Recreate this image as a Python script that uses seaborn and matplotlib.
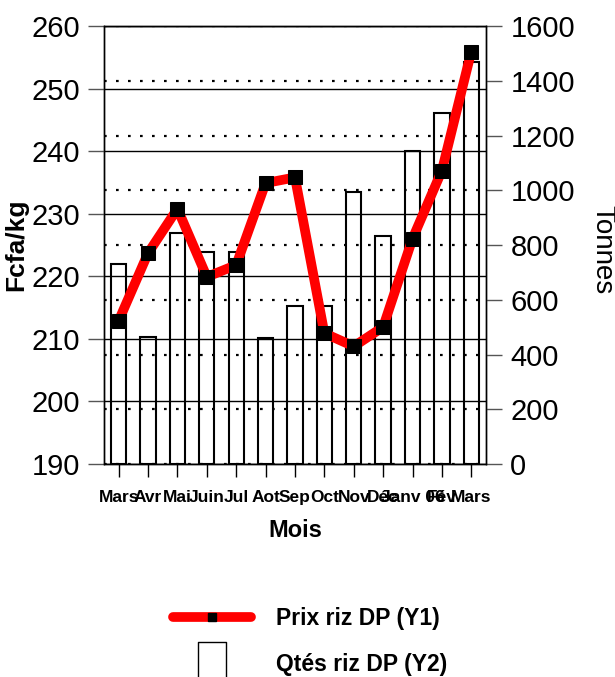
import matplotlib
matplotlib.use("Agg")
import matplotlib.pyplot as plt
from matplotlib.lines import Line2D
import seaborn as sns

# values
months = ["Mars", "Avr", "Mai", "Juin", "Jul", "Aot", "Sep", "Oct", "Nov",
          "Déc", "Janv 06", "Fév", "Mars"]
prix = [212.9, 223.7, 230.8, 219.9, 221.8, 234.9, 235.8, 210.9, 208.8,
        211.9, 226.0, 236.9, 255.9]
qtes = [730, 465, 843, 774, 774, 459, 577, 577, 992, 833, 1144, 1283, 1467]
left_ticks = [190, 200, 210, 220, 230, 240, 250, 260]
right_ticks = [0, 200, 400, 600, 800, 1000, 1200, 1400, 1600]
idx = list(range(len(months)))

sns.set_theme(style="ticks")
plt.rcParams["font.family"] = ["Liberation Sans", "DejaVu Sans"]
for key in ("text.color", "axes.labelcolor", "xtick.labelcolor", "ytick.labelcolor"):
    plt.rcParams[key] = "black"

fig = plt.figure(figsize=(6.15, 6.77), dpi=100)
ax = fig.add_axes([0.1691, 0.3146, 0.6211, 0.647])
ax2 = ax.twinx()

# bars on the right axis (Tonnes)
sns.barplot(x=idx, y=qtes, ax=ax2, color="white", edgecolor="black",
            linewidth=1.5, width=0.52, saturation=1)
ax2.set_ylim(0, 1600)
ax2.set_yticks(right_ticks)
ax2.set_axisbelow(False)
ax2.grid(axis="y", color="black", lw=1.6, linestyle=(0, (1.2, 4.2)))
ax2.grid(axis="x", visible=False)

# price line on the left axis (Fcfa/kg), drawn above the bars
ax.set_zorder(ax2.get_zorder() + 1)
ax.patch.set_visible(False)
sns.lineplot(x=idx, y=prix, ax=ax, color="#ff0000", lw=7, marker="s",
             markersize=9.5, markerfacecolor="black", markeredgecolor="black")
ax.set_ylim(190, 260)
ax.set_yticks(left_ticks)
ax.set_xlim(-0.5, 12.5)
ax.set_xticks(idx)
ax.set_xticklabels(months, weight="bold", fontsize=12.5)
ax.set_xticks(idx[1:12:2], minor=True)
ax.grid(axis="y", which="major", color="black", lw=1)
ax.grid(axis="x", which="major", visible=False)
ax.grid(axis="x", which="minor", color="black", lw=1)

ax.tick_params(axis="y", length=11.5, width=1, pad=6, labelsize=21, color="#555555")
ax.tick_params(axis="x", which="major", length=9.5, width=1, pad=9, color="black")
ax.tick_params(axis="x", which="minor", length=0)
ax2.tick_params(axis="y", length=11.5, width=1, pad=6, labelsize=21, color="#555555")

ax.set_xlabel("Mois", fontsize=17, weight="bold", labelpad=10)
ax.set_ylabel("Fcfa/kg", fontsize=19, weight="bold", labelpad=2)
ax2.set_ylabel("Tonnes", fontsize=20, rotation=-90, va="center", ha="center")
ax2.yaxis.set_label_coords(1.305, 0.49)

for a in (ax, ax2):
    for sp in a.spines.values():
        sp.set_color("black")
        sp.set_linewidth(1)

# legend below the plot
rect = [(-0.33, -0.5), (0.33, -0.5), (0.33, 0.5), (-0.33, 0.5), (-0.33, -0.5)]
handles = [
    Line2D([], [], color="#ff0000", lw=7, marker="s", markersize=6,
           markerfacecolor="black", markeredgecolor="black"),
    Line2D([], [], linestyle="none", marker=rect, markersize=30,
           markerfacecolor="white", markeredgecolor="black", markeredgewidth=1),
]
fig.legend(handles, ["Prix riz DP (Y1)", "Qtés riz DP (Y2)"],
           loc="upper left", bbox_to_anchor=(0.281, 0.103), frameon=False,
           prop={"weight": "bold", "size": 16.5},
           handlelength=3.4, handletextpad=1.1, labelspacing=1.0,
           borderpad=0, borderaxespad=0, numpoints=1)

fig.savefig("out.png", dpi=100)
